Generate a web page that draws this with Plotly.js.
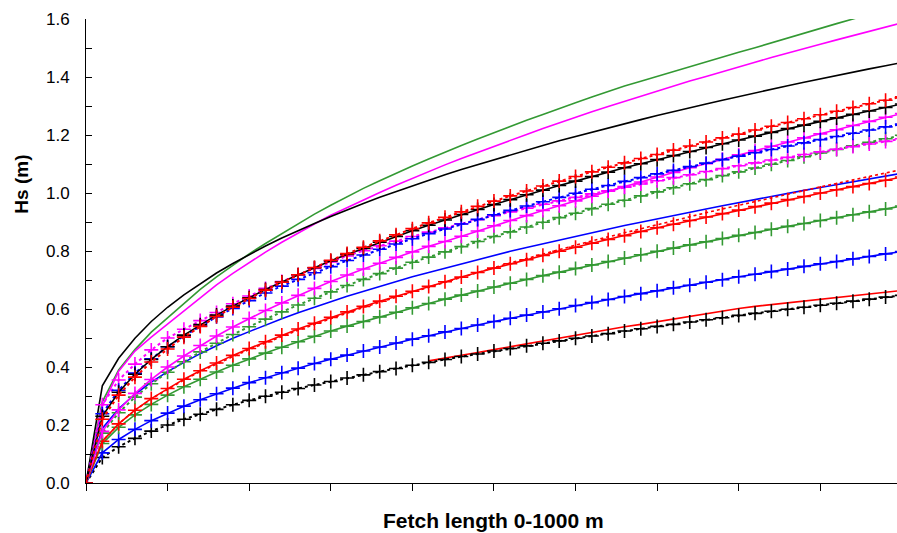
<!DOCTYPE html>
<html>
<head>
<meta charset="utf-8">
<script src="https://cdn.plot.ly/plotly-3.0.1.min.js"></script>
<style>
html,body{margin:0;padding:0;background:#fff;}
#chart{width:897px;height:533px;}
</style>
</head>
<body>
<div id="chart"></div>
<script>
// Fetch length (m)
var fetchX = [0,20,40,60,80,100,120,140,160,180,200,220,240,260,280,300,320,340,360,380,400,420,440,460,480,500,520,540,560,580,600,620,640,660,680,700,720,740,760,780,800,820,840,860,880,900,920,940,960,980,1000];
var fetchRed = [420,440,460,480,500,520,540,560,580,600,620,640,660,680,700,720,740,760,780,800,820,840,860,880,900,920,940,960,980,1000];

// Hs (m) series
var greenLine   = [0,.280,.390,.460,.520,.570,.621,.668,.711,.751,.790,.826,.860,.894,.927,.958,.988,1.016,1.042,1.068,1.093,1.117,1.141,1.164,1.186,1.208,1.230,1.251,1.271,1.292,1.311,1.331,1.350,1.369,1.385,1.402,1.418,1.434,1.451,1.468,1.485,1.501,1.518,1.535,1.551,1.567,1.584,1.600,1.616,1.632,1.648];
var magentaLine = [0,.265,.385,.455,.503,.548,.595,.638,.683,.723,.760,.796,.830,.862,.893,.923,.950,.977,1.002,1.027,1.051,1.074,1.097,1.119,1.140,1.162,1.182,1.202,1.222,1.242,1.261,1.280,1.298,1.316,1.334,1.351,1.369,1.386,1.402,1.419,1.435,1.451,1.467,1.483,1.498,1.513,1.528,1.543,1.558,1.572,1.587];
var blackLine   = [0,.335,.430,.499,.557,.606,.649,.688,.724,.757,.788,.817,.845,.871,.895,.919,.942,.964,.985,1.005,1.025,1.044,1.063,1.081,1.098,1.115,1.132,1.148,1.164,1.180,1.195,1.210,1.225,1.239,1.253,1.267,1.281,1.294,1.307,1.320,1.333,1.345,1.358,1.370,1.382,1.394,1.405,1.417,1.428,1.439,1.450];
var redPlusDot  = [0,.220,.303,.365,.417,.462,.503,.540,.574,.606,.636,.665,.692,.718,.743,.768,.791,.813,.835,.856,.877,.897,.916,.935,.954,.972,.990,1.007,1.024,1.041,1.057,1.073,1.089,1.104,1.119,1.133,1.148,1.162,1.176,1.190,1.203,1.217,1.230,1.243,1.256,1.270,1.282,1.295,1.308,1.320,1.332];
var blackPlus   = [0,.230,.313,.375,.426,.470,.510,.546,.579,.610,.639,.667,.693,.718,.742,.766,.788,.809,.830,.850,.870,.889,.907,.926,.943,.960,.977,.994,1.010,1.026,1.041,1.057,1.072,1.087,1.101,1.115,1.129,1.143,1.157,1.170,1.183,1.196,1.209,1.222,1.234,1.247,1.259,1.271,1.283,1.295,1.307];
var bluePlusDot = [0,.239,.320,.379,.428,.470,.507,.541,.573,.602,.629,.655,.679,.702,.725,.746,.767,.786,.806,.824,.842,.860,.876,.893,.909,.925,.940,.955,.970,.985,.999,1.013,1.026,1.040,1.053,1.066,1.078,1.091,1.103,1.115,1.127,1.139,1.150,1.162,1.173,1.184,1.195,1.206,1.217,1.228,1.238];
var magPlusDot  = [0,.270,.355,.410,.459,.500,.530,.560,.588,.618,.645,.671,.695,.718,.740,.762,.783,.801,.818,.834,.850,.865,.880,.894,.908,.922,.935,.948,.961,.973,.985,.997,1.008,1.020,1.031,1.042,1.053,1.063,1.074,1.084,1.094,1.104,1.114,1.123,1.133,1.142,1.151,1.160,1.169,1.178,1.187];
var magPlus     = [0,.178,.252,.309,.357,.400,.438,.474,.507,.538,.567,.595,.621,.647,.671,.695,.717,.738,.758,.778,.797,.816,.833,.851,.869,.887,.905,.922,.940,.956,.973,.989,1.006,1.022,1.038,1.055,1.071,1.087,1.101,1.116,1.132,1.146,1.161,1.176,1.190,1.204,1.218,1.233,1.247,1.261,1.274];
var blueLine    = [0,.188,.256,.306,.348,.384,.416,.446,.473,.499,.522,.545,.566,.587,.607,.625,.644,.661,.678,.695,.711,.726,.741,.756,.771,.785,.799,.812,.825,.838,.851,.863,.876,.888,.899,.911,.923,.934,.945,.956,.967,.977,.988,.998,1.009,1.019,1.029,1.039,1.048,1.058,1.068];
var redDot      = [0,.144,.204,.251,.290,.324,.355,.384,.411,.436,.460,.483,.506,.527,.547,.567,.586,.605,.623,.641,.658,.675,.692,.709,.726,.743,.759,.774,.790,.805,.820,.835,.849,.863,.878,.892,.905,.919,.932,.945,.958,.971,.984,.997,1.009,1.021,1.033,1.045,1.057,1.069,1.081];
var redPlus     = [0,.144,.204,.251,.291,.326,.358,.387,.414,.440,.464,.487,.510,.531,.551,.571,.590,.609,.627,.644,.661,.678,.694,.710,.726,.741,.756,.770,.785,.799,.813,.827,.840,.853,.867,.880,.892,.905,.917,.929,.941,.953,.965,.977,.988,1.000,1.011,1.022,1.033,1.044,1.055];
var greenPlus   = [0,.136,.192,.235,.271,.303,.332,.358,.383,.406,.428,.448,.468,.487,.506,.524,.541,.557,.573,.589,.604,.619,.634,.648,.662,.676,.689,.702,.715,.727,.740,.752,.764,.776,.787,.799,.810,.821,.832,.843,.854,.864,.875,.885,.895,.905,.915,.925,.935,.945,.955];
var greenPlusDot= [0,.172,.242,.296,.342,.382,.418,.452,.482,.512,.539,.565,.590,.614,.637,.659,.681,.702,.722,.741,.761,.779,.797,.815,.833,.850,.866,.883,.899,.915,.930,.946,.961,.975,.990,1.004,1.018,1.032,1.046,1.060,1.073,1.086,1.099,1.112,1.125,1.138,1.150,1.163,1.175,1.187,1.199];
var bluePlus    = [0,.104,.150,.185,.215,.241,.265,.287,.308,.327,.346,.363,.380,.396,.412,.427,.441,.455,.469,.483,.496,.508,.521,.533,.545,.557,.568,.579,.590,.601,.612,.622,.633,.643,.653,.663,.673,.682,.692,.701,.711,.720,.729,.738,.747,.756,.764,.773,.781,.790,.798];
var redLate     = [.421,.430,.440,.450,.460,.470,.480,.489,.500,.511,.521,.530,.539,.547,.556,.565,.575,.585,.594,.602,.609,.615,.621,.628,.634,.640,.646,.652,.658,.664];
var blackPlusDot= [0,.088,.125,.154,.179,.200,.220,.237,.254,.270,.285,.299,.313,.326,.338,.350,.362,.373,.384,.395,.406,.416,.426,.436,.445,.455,.464,.473,.482,.490,.499,.507,.515,.524,.532,.540,.547,.555,.563,.570,.578,.585,.592,.599,.606,.613,.620,.627,.634,.641,.647];

var GREEN = '#339933', MAG = '#ff00ff', BLK = '#000000', RED = '#ff0000', BLU = '#0000ff';

function plain(x, y, col, dash) {
  return {x: x, y: y, type: 'scatter', mode: 'lines',
          line: {color: col, width: 1.6, dash: dash || 'solid'}, hoverinfo: 'skip'};
}
function plus(x, y, col, dash) {
  return {x: x, y: y, type: 'scatter', mode: 'lines+markers',
          line: {color: col, width: dash === 'dot' ? 2 : 1.6, dash: dash || 'solid'},
          marker: {symbol: 'cross-thin', size: 10, color: col, line: {color: col, width: 1.6}},
          hoverinfo: 'skip'};
}

var traces = [
  plain(fetchX, greenLine, GREEN),
  plain(fetchX, magentaLine, MAG),
  plain(fetchX, blackLine, BLK),
  plain(fetchX, blueLine, BLU),
  plain(fetchX, redDot, RED, 'dot'),
  plain(fetchRed, redLate, RED),
  plus(fetchX, blackPlusDot, BLK, 'dot'),
  plus(fetchX, bluePlus, BLU),
  plus(fetchX, greenPlus, GREEN),
  plus(fetchX, redPlus, RED),
  plus(fetchX, greenPlusDot, GREEN, 'dot'),
  plus(fetchX, magPlus, MAG),
  plus(fetchX, magPlusDot, MAG, 'dot'),
  plus(fetchX, bluePlusDot, BLU, 'dot'),
  plus(fetchX, blackPlus, BLK),
  plus(fetchX, redPlusDot, RED, 'dot')
];

var FONT = 'Liberation Sans, Arial, Helvetica, sans-serif';

var layout = {
  width: 897, height: 533,
  margin: {l: 86, r: 0, t: 19, b: 50, pad: 0},
  paper_bgcolor: '#ffffff', plot_bgcolor: '#ffffff',
  showlegend: false,
  font: {family: FONT, color: '#000000'},
  xaxis: {
    range: [0, 994], showgrid: false, zeroline: false,
    showline: true, linecolor: '#000', linewidth: 1,
    ticks: 'outside', tick0: 0, dtick: 100, ticklen: 7, tickcolor: '#000', tickwidth: 1,
    showticklabels: false, fixedrange: true
  },
  xaxis2: {
    overlaying: 'x', anchor: 'y', side: 'bottom',
    range: [0, 994], showgrid: false, zeroline: false, showline: false,
    ticks: 'inside', tick0: 0, dtick: 50, ticklen: 6, tickcolor: '#000', tickwidth: 1,
    showticklabels: false, fixedrange: true
  },
  yaxis: {
    range: [0, 1.6], showgrid: false, zeroline: false,
    showline: true, linecolor: '#000', linewidth: 1,
    ticks: 'inside', tick0: 0, dtick: 0.2, ticklen: 6, tickcolor: '#000', tickwidth: 1,
    minor: {dtick: 0.1, tick0: 0, ticks: 'inside', ticklen: 6, tickcolor: '#000', tickwidth: 1},
    tickformat: '.1f', tickfont: {family: FONT, size: 17, color: '#000'},
    ticklabelstandoff: 12, fixedrange: true
  },
  annotations: [
    {text: '<b>Hs (m)</b>', xref: 'paper', yref: 'paper', x: -0.079, y: 0.645,
     xanchor: 'center', yanchor: 'middle', textangle: -90, showarrow: false,
     font: {family: FONT, size: 19, color: '#000'}},
    {text: '<b>Fetch length 0-1000 m</b>', xref: 'paper', yref: 'paper', x: 0.503, y: -0.08,
     xanchor: 'center', yanchor: 'middle', showarrow: false,
     font: {family: FONT, size: 21, color: '#000'}}
  ]
};

Plotly.newPlot('chart', traces, layout, {staticPlot: true, displayModeBar: false});
</script>
</body>
</html>
